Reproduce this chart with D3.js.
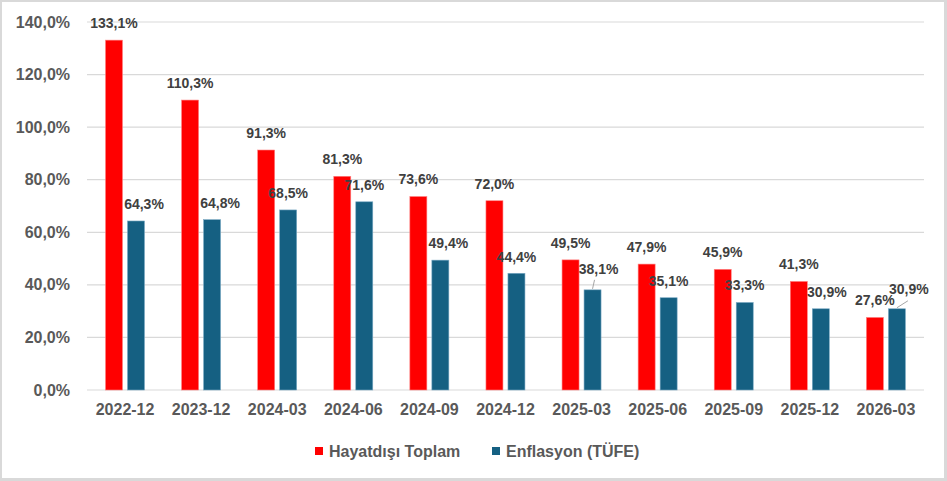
<!DOCTYPE html>
<html>
<head>
<meta charset="utf-8">
<script src="https://cdn.jsdelivr.net/npm/d3@7"></script>
<style>
  body { margin: 0; background: #d9d9d9; }
  svg { display: block; }
  text { font-family: "Liberation Sans", Arial, sans-serif; font-weight: bold; }
</style>
</head>
<body>
<svg id="chart" width="947" height="481"></svg>
<script>
// values
const periods = ["2022-12", "2023-12", "2024-03", "2024-06", "2024-09", "2024-12",
                 "2025-03", "2025-06", "2025-09", "2025-12", "2026-03"]
const hayatdisi = [133.1, 110.3, 91.3, 81.3, 73.6, 72.0, 49.5, 47.9, 45.9, 41.3, 27.6]
const enflasyon = [64.3, 64.8, 68.5, 71.6, 49.4, 44.4, 38.1, 35.1, 33.3, 30.9, 30.9]
const seriesNames = ["Hayatdışı Toplam", "Enflasyon (TÜFE)"]
const yTicks = [0, 20, 40, 60, 80, 100, 120, 140]

// label nudges for the blue series (Excel had some labels dragged)
const blueNudge = [[8, 0], [8, 0], [0, 0], [0, 0], [8, 0], [0, 1], [6, -4], [0, 0], [0, 0], [6, 0], [12, -3]]

const colors = ["#ff0000", "#156082"]
const fmt = v => d3.format(".1f")(v).replace(".", ",") + "%"

const svg = d3.select("#chart")
svg.append("rect").attr("x", 2).attr("y", 2).attr("width", 942).attr("height", 476).attr("fill", "#fff")

const x0 = d3.scaleBand().domain(periods).range([87, 924])
const x1 = d3.scaleBand().domain(seriesNames).range([18.5, 57.5]).paddingInner(0.2273)
const y = d3.scaleLinear().domain([0, 140]).range([390, 22])

// gridlines
svg.append("g").selectAll("line")
  .data(yTicks)
  .enter().append("line")
  .attr("x1", 87).attr("x2", 924)
  .attr("y1", d => y(d)).attr("y2", d => y(d))
  .attr("stroke", "#d9d9d9").attr("stroke-width", 1.2)

// y axis labels
const yAxis = d3.axisLeft(y).tickValues(yTicks).tickSize(0).tickPadding(17).tickFormat(fmt)
svg.append("g").attr("transform", "translate(87,0)").call(yAxis)
  .call(g => g.select(".domain").remove())
  .selectAll("text").attr("fill", "#595959").style("font-size", "16px")

// x axis labels
const xAxis = d3.axisBottom(x0).tickSize(0).tickPadding(14)
svg.append("g").attr("transform", "translate(0,390)").call(xAxis)
  .call(g => g.select(".domain").remove())
  .selectAll("text").attr("fill", "#595959").style("font-size", "16px")

const rows = periods.map((p, i) => ({ p, i, vals: [hayatdisi[i], enflasyon[i]] }))

const groups = svg.append("g").selectAll("g")
  .data(rows)
  .enter().append("g")
  .attr("transform", d => "translate(" + x0(d.p) + ",0)")

groups.selectAll("rect")
  .data(d => d.vals.map((v, k) => ({ v, k })))
  .enter().append("rect")
  .attr("x", d => x1(seriesNames[d.k]))
  .attr("width", x1.bandwidth())
  .attr("y", d => y(d.v))
  .attr("height", d => y(0) - y(d.v))
  .attr("fill", d => colors[d.k])
  .attr("stroke", d => d.k == 1 ? "#7aa9c4" : "#ff8080")
  .attr("stroke-width", 0.6)

// leader lines for dragged labels
groups.filter(d => d.p == "2025-03" || d.p == "2026-03")
  .append("line")
  .attr("x1", d => x1(seriesNames[1]) + x1.bandwidth() / 2)
  .attr("y1", d => y(d.vals[1]) - 1)
  .attr("x2", d => x1(seriesNames[1]) + x1.bandwidth() / 2 + (d.p == "2026-03" ? 11 : 2))
  .attr("y2", d => y(d.vals[1]) - (d.p == "2026-03" ? 8 : 10))
  .attr("stroke", "#a6a6a6").attr("stroke-width", 1)

// data labels
groups.selectAll("text.lbl")
  .data(d => d.vals.map((v, k) => ({ v, k, i: d.i })))
  .enter().append("text")
  .attr("class", "lbl")
  .attr("text-anchor", "middle")
  .attr("x", d => x1(seriesNames[d.k]) + x1.bandwidth() / 2 + (d.k == 1 ? blueNudge[d.i][0] : 0))
  .attr("y", d => y(d.v) - 17 + (d.k == 1 ? blueNudge[d.i][1] : 0))
  .attr("dy", "0.35em")
  .attr("fill", "#404040")
  .style("font-size", "14px")
  .text(d => fmt(d.v))

// legend
const legend = svg.append("g").attr("transform", "translate(315,451)")
const legendX = [0, 177]
seriesNames.forEach((name, k) => {
  const g = legend.append("g").attr("transform", "translate(" + legendX[k] + ",0)")
  g.append("rect").attr("x", 0).attr("y", -4).attr("width", 8).attr("height", 8).attr("fill", colors[k])
  g.append("text").attr("x", 14).attr("dy", "0.35em").attr("fill", "#595959")
    .style("font-size", "16px").text(name)
})
</script>
</body>
</html>
